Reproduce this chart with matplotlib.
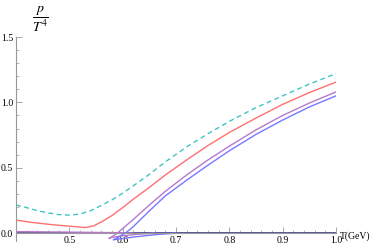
import matplotlib
matplotlib.use("Agg")
import matplotlib.pyplot as plt
from matplotlib.ticker import MultipleLocator

# data
cyan_x = [0.40, 0.42, 0.44, 0.46, 0.48, 0.50, 0.52, 0.54, 0.56, 0.58, 0.60, 0.62, 0.65, 0.68,
          0.72, 0.76, 0.80, 0.85, 0.90, 0.95, 1.00]
cyan_y = [0.215, 0.195, 0.172, 0.155, 0.142, 0.138, 0.146, 0.172, 0.212, 0.255, 0.305, 0.362,
          0.45, 0.545, 0.66, 0.76, 0.855, 0.96, 1.05, 1.14, 1.22]

red_x = [0.40, 0.43, 0.46, 0.49, 0.51, 0.53, 0.545, 0.56, 0.58, 0.60, 0.62, 0.65, 0.68, 0.72,
         0.76, 0.80, 0.85, 0.90, 0.95, 1.00]
red_y = [0.100, 0.082, 0.068, 0.057, 0.050, 0.043, 0.055, 0.085, 0.135, 0.195, 0.26, 0.35,
         0.445, 0.56, 0.67, 0.77, 0.88, 0.985, 1.075, 1.155]

purple_x = [0.575, 0.58, 0.59, 0.60, 0.62, 0.65, 0.68, 0.72, 0.76, 0.80, 0.85, 0.90, 0.95, 1.00]
purple_y = [-0.04, -0.027, 0.0, 0.035, 0.105, 0.215, 0.32, 0.445, 0.56, 0.665, 0.79, 0.90, 0.995, 1.08]
purple_low_x = [0.40, 0.50, 0.60, 0.62]
purple_low_y = [0.012, 0.008, 0.003, 0.0]
purple_branch_x = [0.575, 0.60, 0.63, 0.66]
purple_branch_y = [-0.036, -0.02, -0.008, 0.0]

blue_x = [0.583, 0.59, 0.60, 0.605, 0.62, 0.65, 0.68, 0.72, 0.76, 0.80, 0.85, 0.90, 0.95, 1.00]
blue_y = [-0.05, -0.035, -0.01, 0.0, 0.05, 0.17, 0.285, 0.405, 0.52, 0.63, 0.755, 0.865, 0.965, 1.05]
blue_branch_x = [0.583, 0.62, 0.66, 0.70]
blue_branch_y = [-0.05, -0.03, -0.012, 0.0]

zero_x = [0.40, 1.00]
zero_y = [0.0, 0.0]

xticks = [0.5, 0.6, 0.7, 0.8, 0.9, 1.0]
xticklabels = ["0.5", "0.6", "0.7", "0.8", "0.9", "1.0"]
yticks = [0.0, 0.5, 1.0, 1.5]
yticklabels = ["0.0", "0.5", "1.0", "1.5"]

plt.rcParams['font.family'] = ['Liberation Serif', 'DejaVu Serif']
plt.rcParams['mathtext.fontset'] = 'stix'

fig = plt.figure(figsize=(3.74, 2.49), dpi=100)
ax = fig.add_axes([16/374, 8/249, 320/374, 204/249])
ax.set_xlim(0.4, 1.0)
ax.set_ylim(-0.06, 1.5)

ax.plot(zero_x, zero_y, color='#3a3a8c', lw=1.2, zorder=2)
ax.plot(purple_low_x, purple_low_y, color='#b878d0', lw=1.0)
ax.plot(purple_branch_x, purple_branch_y, color='#b878d0', lw=1.0)
ax.plot(blue_branch_x, blue_branch_y, color='#7878ff', lw=1.0)
ax.plot(cyan_x, cyan_y, color='#40c4c4', lw=1.0, dashes=(3.5, 2.5))
ax.plot(red_x, red_y, color='#ff7070', lw=1.0)
ax.plot(purple_x, purple_y, color='#b878d0', lw=1.0)
ax.plot(blue_x, blue_y, color='#7878ff', lw=1.0)

for s in ['top', 'right']:
    ax.spines[s].set_visible(False)
ax.spines['bottom'].set_position(('data', 0))
ax.spines['left'].set_color('#999999')
ax.spines['bottom'].set_color('#999999')
ax.spines['left'].set_linewidth(0.8)
ax.spines['bottom'].set_linewidth(0.8)

ax.set_xticks(xticks)
ax.set_xticklabels(xticklabels)
ax.set_yticks(yticks)
ax.set_yticklabels(yticklabels)
ax.xaxis.set_minor_locator(MultipleLocator(0.02))
ax.yaxis.set_minor_locator(MultipleLocator(0.1))
ax.tick_params(which='both', direction='in', color='#999999', labelsize=7, pad=2)
ax.tick_params(which='major', length=4, width=0.6)
ax.tick_params(which='minor', length=2, width=0.5)

fig.text(340/374, 1 - 236/249, "T(GeV)", fontsize=7, va='center', ha='left')
fig.text(40/374, 1 - 19/249, r"$\dfrac{p}{T^4}$", fontsize=10, va='center', ha='center')

fig.savefig("out.png", dpi=100)
